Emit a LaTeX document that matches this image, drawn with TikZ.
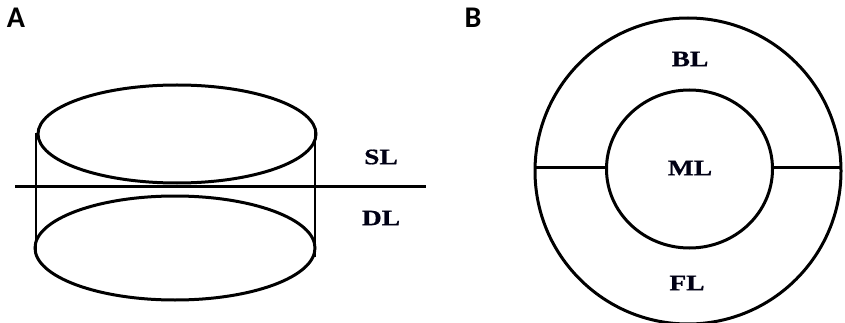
\documentclass[tikz,border=0pt]{standalone}
\usepackage{fontspec}
\setmainfont{Liberation Serif}
\newfontfamily\labelfont{Liberation Serif}[FakeStretch=1.25, BoldFeatures={FakeBold=0.8}]
\newfontfamily\panelfont{Carlito}
\begin{document}
\begin{tikzpicture}[x=1pt,y=-1pt,
  shape line/.style={line width=3pt, black},
  thin line/.style={line width=2.6pt, black},
  layerlabel/.style={font=\labelfont\fontsize{22}{24}\selectfont\bfseries, text=black!92!blue, inner sep=0pt},
  panellabel/.style={font=\panelfont\fontsize{30}{32}\selectfont\bfseries, inner sep=0pt}]
\useasboundingbox (0,0) rectangle (845,323);
% Panel A
\node[panellabel] (pA) at (16,18) {A};
\draw[shape line] (177,134) ellipse [x radius=139, y radius=49];
\draw[shape line] (175,248) ellipse [x radius=140, y radius=52];
\coordinate (lt) at (36,133); \coordinate (lb) at (36,252);
\coordinate (rt) at (315,128); \coordinate (rb) at (315,257);
\draw[thin line] (lt) -- (lb);
\draw[thin line] (rt) -- (rb);
\coordinate (hl) at (15,186); \coordinate (hr) at (426,186);
\draw[shape line] (hl) -- (hr);
\node[layerlabel] (SL) at (381,157) {SL};
\node[layerlabel] (DL) at (381,218) {DL};
% Panel B
\node[panellabel] (pB) at (473,18) {B};
\draw[shape line] (688,171) circle [radius=153];
\draw[shape line] (689.5,169) ellipse [x radius=83, y radius=79];
\coordinate (ol) at (535,168); \coordinate (il) at (606.5,168);
\coordinate (ir) at (772.5,168); \coordinate (or) at (841,168);
\draw[shape line] (ol) -- (il);
\draw[shape line] (ir) -- (or);
\node[layerlabel] (BL) at (690,59) {BL};
\node[layerlabel] (ML) at (690,168) {ML};
\node[layerlabel] (FL) at (687,283) {FL};
\end{tikzpicture}
\end{document}
